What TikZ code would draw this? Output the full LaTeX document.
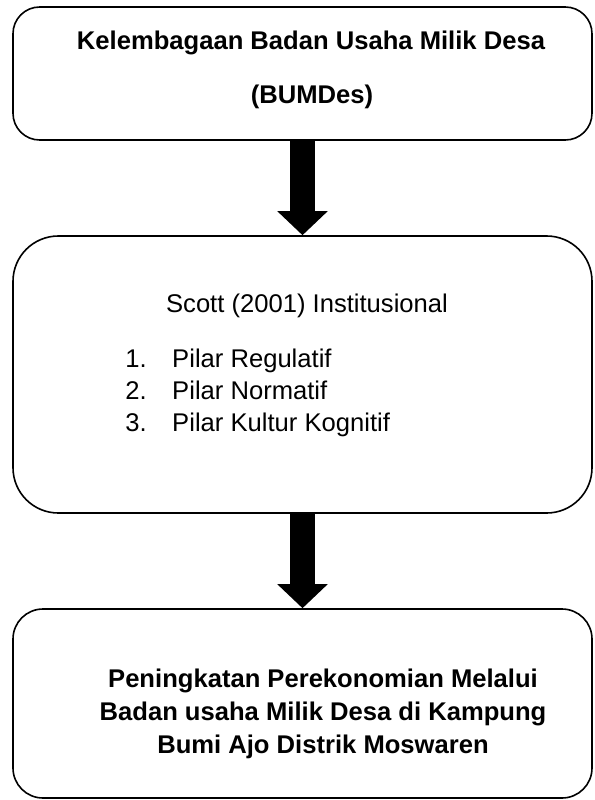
\documentclass[tikz,border=0pt]{standalone}
\usepackage{fontspec}
\setmainfont{Liberation Sans}
\usetikzlibrary{arrows.meta}
\begin{document}
\begin{tikzpicture}[x=0.75pt,y=-0.75pt,
  box/.style={draw, line width=1.2pt, minimum width=434.25pt, inner sep=0pt},
  txt/.style={anchor=base, inner sep=0pt, font=\fontsize{19.2}{24}\selectfont},
  btxt/.style={anchor=base, inner sep=0pt, font=\fontsize{19.2}{24}\selectfont\bfseries},
  flow/.style={draw, line width=18.75pt, -{Triangle[width=36.75pt,length=18pt]}}]
\useasboundingbox (0,0) rectangle (594,800);
% the three boxes
\node[box, rounded corners=20pt, minimum height=99.75pt] (bumdes) at (302.5,73.5) {};
\node[box, rounded corners=34pt, minimum height=207.75pt] (scott) at (302.5,374.5) {};
\node[box, rounded corners=22.5pt, minimum height=141.75pt] (hasil) at (302.5,703.5) {};
% texts
\node[btxt] (b1) at (311,49) {Kelembagaan Badan Usaha Milik Desa};
\node[btxt] (b2) at (312,103) {(BUMDes)};
\node[txt] (s0) at (307,312) {Scott (2001) Institusional};
\node[txt, anchor=base west] (s1) at (125,367) {\makebox[35.25pt][l]{1.}Pilar Regulatif};
\node[txt, anchor=base west] (s2) at (125,399) {\makebox[35.25pt][l]{2.}Pilar Normatif};
\node[txt, anchor=base west] (s3) at (125,431) {\makebox[35.25pt][l]{3.}Pilar Kultur Kognitif};
\node[btxt] (h1) at (323,687) {Peningkatan Perekonomian Melalui};
\node[btxt] (h2) at (323,720) {Badan usaha Milik Desa di Kampung};
\node[btxt] (h3) at (323,753) {Bumi Ajo Distrik Moswaren};
% arrows
\path[flow] (bumdes) -- (scott);
\path[flow] (scott) -- (hasil);
\end{tikzpicture}
\end{document}
